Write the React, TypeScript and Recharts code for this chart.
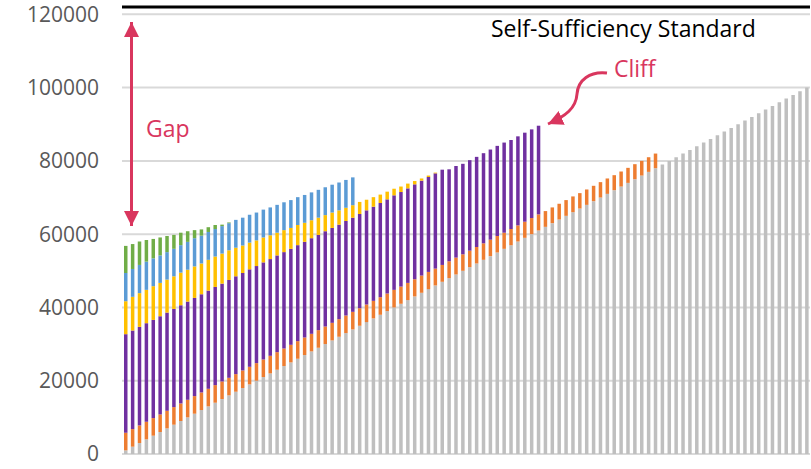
import React from "react";
import {
  BarChart,
  Bar,
  XAxis,
  YAxis,
  CartesianGrid,
  ReferenceLine,
} from "recharts";

// earnings per bar (gray base)
const earnings = [
  1000, 2000, 3000, 4000, 5000, 6000, 7000, 8000, 9000, 10000,
  11000, 12000, 13000, 14000, 15000, 16000, 17000, 18000, 19000, 20000,
  21000, 22000, 23000, 24000, 25000, 26000, 27000, 28000, 29000, 30000,
  31000, 32000, 33000, 34000, 35000, 36000, 37000, 38000, 39000, 40000,
  41000, 42000, 43000, 44000, 45000, 46000, 47000, 48000, 49000, 50000,
  51000, 52000, 53000, 54000, 55000, 56000, 57000, 58000, 59000, 60000,
  61000, 62000, 63000, 64000, 65000, 66000, 67000, 68000, 69000, 70000,
  71000, 72000, 73000, 74000, 75000, 76000, 77000, 78000, 79000, 80000,
  81000, 82000, 83000, 84000, 85000, 86000, 87000, 88000, 89000, 90000,
  91000, 92000, 93000, 94000, 95000, 96000, 97000, 98000, 99000, 100000,
];

const orange = [
  4800, 4800, 4800, 4800, 4800, 4800, 4800, 4800, 4800, 4800,
  4800, 4800, 4800, 4800, 4800, 4800, 4800, 4800, 4800, 4800,
  4800, 4800, 4800, 4800, 4800, 4800, 4800, 4800, 4800, 4800,
  4800, 4800, 4800, 4800, 4800, 4800, 4800, 4800, 4800, 4800,
  4700, 4700, 4700, 4700, 4700, 4600, 4600, 4600, 4600, 4500,
  4500, 4500, 4500, 4500, 4500, 4400, 4400, 4400, 4400, 4400,
  4400, 4300, 4300, 4300, 4300, 4300, 4200, 4200, 4200, 4200,
  4200, 4100, 4100, 4100, 4100, 4000, 4000, 4000,
];

const purple = [
  26900, 26900, 26900, 26900, 26800, 26800, 26800, 26800, 26800, 26800,
  26800, 26800, 26800, 26800, 26700, 26700, 26700, 26600, 26600, 26500,
  26500, 26400, 26400, 26300, 26200, 26200, 26100, 26100, 26000, 26000,
  25900, 25800, 25800, 25700, 25700, 25700, 25700, 25700, 25700, 25800,
  25800, 25800, 25900, 25900, 25900, 26000, 26000, 25100, 25000, 24700,
  24700, 24600, 24600, 24600, 24600, 24600, 24300, 24300, 24300, 24200,
  24200,
];

const yellow = [
  9000, 9200, 9200, 9100, 9200, 9100, 9000, 8900, 8900, 8700,
  8600, 8400, 8400, 8300, 8200, 8100, 7800, 7500, 7300, 7000,
  6800, 6500, 6200, 6000, 5700, 5500, 5200, 4900, 4700, 4400,
  4200, 3900, 3600, 3400, 3300, 2900, 2600, 2300, 2100, 1800,
  1500, 1300, 900, 600, 400, 200,
];

const blue = [
  7700, 7600, 7700, 7700, 7600, 7500, 7500, 7500, 7500, 7600,
  7700, 7600, 7600, 7500, 7500, 7400, 7600, 7600, 7600, 7600,
  7600, 7600, 7600, 7600, 7600, 7600, 7600, 7600, 7600, 7600,
  7600, 7600, 7600, 7600,
];

const green = [
  7400, 6800, 6400, 5900, 5300, 4900, 4400, 3800, 3400, 2900,
  2200, 1700, 1300, 1100, 400, 200,
];

const yTicks = [0, 20000, 40000, 60000, 80000, 100000, 120000];
const standard = 122000;

const data = earnings.map((e, i) => ({
  earnings: e,
  gray: e,
  orange: orange[i] ?? 0,
  purple: purple[i] ?? 0,
  yellow: yellow[i] ?? 0,
  blue: blue[i] ?? 0,
  green: green[i] ?? 0,
}));

const RED = "#D9365E";

function Annotations() {
  return (
    <svg
      width={811}
      height={469}
      style={{ position: "absolute", left: 0, top: 0, pointerEvents: "none" }}
    >
      <defs>
        <marker
          id="head"
          viewBox="0 0 10 10"
          refX="10"
          refY="5"
          markerWidth="15"
          markerHeight="15"
          markerUnits="userSpaceOnUse"
          orient="auto-start-reverse"
        >
          <path d="M0,0 L10,5 L0,10 z" fill={RED} />
        </marker>
      </defs>

      {/* gap arrow */}
      <line
        x1={131.5}
        y1={22}
        x2={131.5}
        y2={226}
        stroke={RED}
        strokeWidth={3}
        markerStart="url(#head)"
        markerEnd="url(#head)"
      />
      <text x={146} y={137} fill={RED} fontSize={23} fontFamily="Open Sans">
        Gap
      </text>

      {/* cliff arrow */}
      <path
        d="M607,73 C590,71 578,80 577,94 C576,108 566,116 548,124"
        fill="none"
        stroke={RED}
        strokeWidth={3}
        markerEnd="url(#head)"
      />
      <text x={614} y={77} fill={RED} fontSize={23} fontFamily="Open Sans">
        Cliff
      </text>

      <text x={491} y={37} fill="#000" fontSize={23} fontFamily="Open Sans">
        Self-Sufficiency Standard
      </text>
    </svg>
  );
}

export default function App() {
  return (
    <div
      style={{
        position: "absolute",
        left: 0,
        top: 0,
        width: 811,
        height: 469,
        background: "#fff",
        fontFamily: "Open Sans",
      }}
    >
      <BarChart
        width={811}
        height={469}
        data={data}
        margin={{ top: 7, right: 1, bottom: 15, left: 0 }}
        barSize={3.5}
      >
        <CartesianGrid vertical={false} stroke="#D9D9D9" strokeWidth={2} />
        <XAxis dataKey="earnings" hide />
        <YAxis
          width={122}
          domain={[0, standard]}
          ticks={yTicks}
          axisLine={false}
          tickLine={false}
          tickSize={0}
          tickMargin={23}
          tick={{ fill: "#595959", fontSize: 21, fontFamily: "Open Sans" }}
        />
        <Bar dataKey="gray" stackId="a" fill="#BFBFBF" isAnimationActive={false} />
        <Bar dataKey="orange" stackId="a" fill="#ED7D31" isAnimationActive={false} />
        <Bar dataKey="purple" stackId="a" fill="#7030A0" isAnimationActive={false} />
        <Bar dataKey="yellow" stackId="a" fill="#FFC000" isAnimationActive={false} />
        <Bar dataKey="blue" stackId="a" fill="#5B9BD5" isAnimationActive={false} />
        <Bar dataKey="green" stackId="a" fill="#70AD47" isAnimationActive={false} />
        <ReferenceLine y={standard} stroke="#000" strokeWidth={3} />
      </BarChart>
      <Annotations />
    </div>
  );
}
